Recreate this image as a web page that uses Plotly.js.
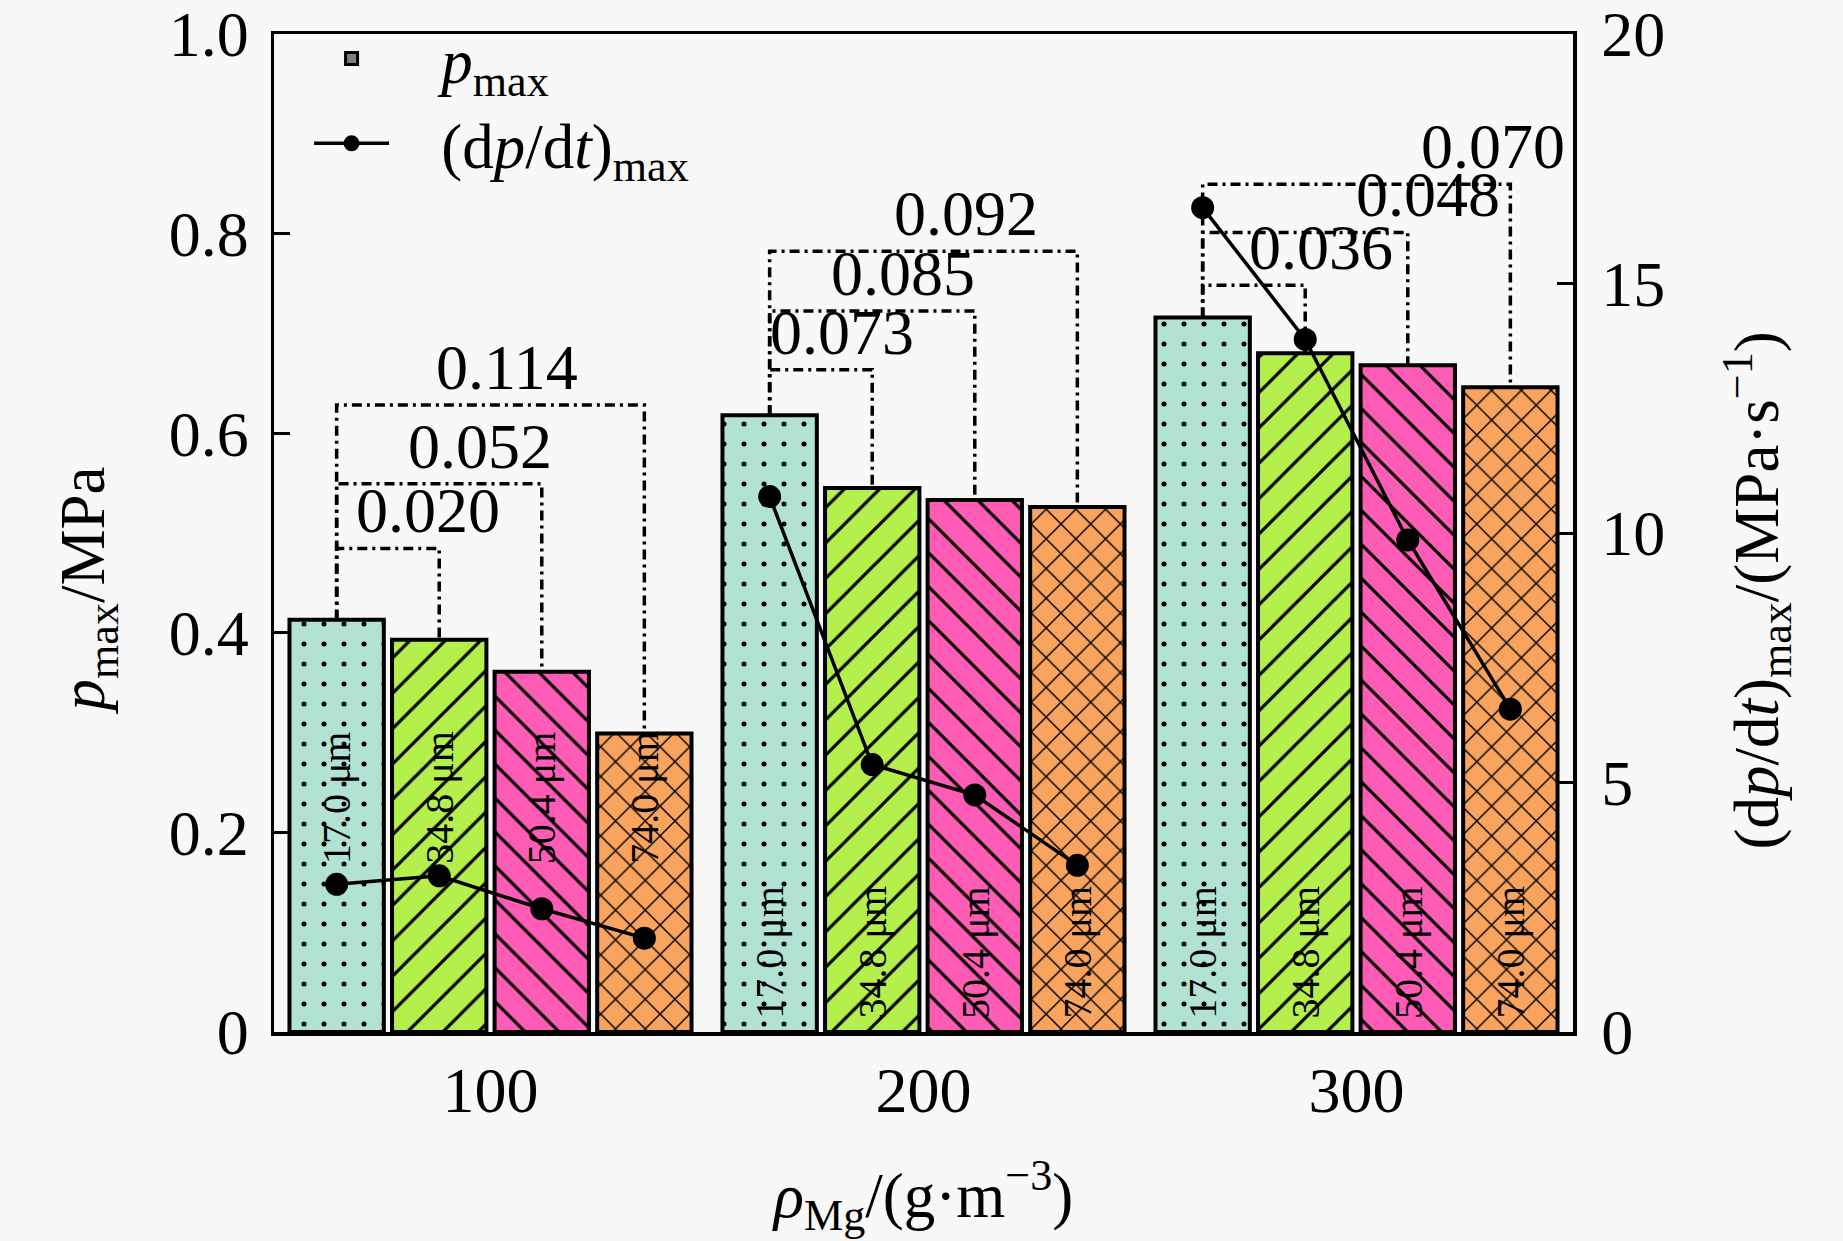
<!DOCTYPE html>
<html>
<head>
<meta charset="utf-8">
<script src="https://cdn.plot.ly/plotly-3.0.1.min.js"></script>
<style>
  html, body { margin: 0; padding: 0; background: #f8f8f8; }
  #graph { width: 1843px; height: 1241px; }
</style>
</head>
<body>
<div id="graph"></div>
<script>
// Mg dust concentration (g/m3) and particle sizes
let concentrations = ["100", "200", "300"];
let sizes = ["17.0 μm", "34.8 μm", "50.4 μm", "74.0 μm"];

// p_max (MPa), one array per particle size, over the three concentrations
let pmax_170 = [0.413, 0.618, 0.716];
let pmax_348 = [0.393, 0.545, 0.680];
let pmax_504 = [0.361, 0.533, 0.668];
let pmax_740 = [0.299, 0.526, 0.646];

// (dp/dt)_max (MPa/s)
let rate_170 = [2.96, 10.73, 16.52];
let rate_348 = [3.13, 5.36, 13.88];
let rate_504 = [2.47, 4.75, 9.86];
let rate_740 = [1.88, 3.34, 6.47];

let pmax = [pmax_170, pmax_348, pmax_504, pmax_740];
let rate = [rate_170, rate_348, rate_504, rate_740];

// styling
let font = "Liberation Serif, Times New Roman, serif";
let colors = ["#b2e2d4", "#b4ef4c", "#ff5cb6", "#f8a45e"];
let shapes_p = [".", "/", "\\", "x"];
let pat_size = [20, 25, 24, 21];
let pat_solid = [0.05, 0.13, 0.13, 0.13];
let bargap = 0.0525;
let slot = (1 - bargap) / sizes.length;
let sp = "\u00a0\u00a0\u00a0";

// bracket heights (left axis units) and label x shifts from the group centre
let bracket_levels = [
  [0.4845, 0.5494, 0.6282],
  [0.6635, 0.7224, 0.7824],
  [0.7482, 0.8012, 0.8494],
];
let label_shift = [
  [-0.144, -0.025, 0.038],
  [-0.189, -0.048, 0.099],
  [-0.081, 0.166, 0.315],
];
let size_label_y = [0.235, 0.08, 0.08];

function barX(group, j) {
  return group + (j - (sizes.length - 1) / 2) * slot;
}

let traces = [];

// legend swatch for p_max (shares the first offset group, no data)
traces.push({
  type: "bar",
  x: [0],
  y: [null],
  name: sp + "<i>p</i><sub>max</sub>",
  offsetgroup: "g0",
  marker: { color: "#7f7f7f", line: { color: "#000", width: 3 } },
  showlegend: true,
  hoverinfo: "skip",
});

for (let j = 0; j < sizes.length; j++) {
  traces.push({
    type: "bar",
    x: concentrations.map((c, i) => i),
    y: pmax[j],
    name: sizes[j],
    offsetgroup: "g" + j,
    showlegend: false,
    marker: {
      color: colors[j],
      line: { color: "#000", width: 4 },
      pattern: {
        shape: shapes_p[j],
        fgcolor: "#000",
        bgcolor: colors[j],
        size: pat_size[j],
        solidity: pat_solid[j],
        fillmode: "replace",
      },
    },
    hoverinfo: "skip",
  });
}

// (dp/dt)_max line, broken between concentrations
let line_x = [];
let line_y = [];
for (let i = 0; i < concentrations.length; i++) {
  for (let j = 0; j < sizes.length; j++) {
    line_x.push(barX(i, j));
    line_y.push(rate[j][i]);
  }
  line_x.push(null);
  line_y.push(null);
}
traces.push({
  type: "scatter",
  mode: "lines+markers",
  x: line_x,
  y: line_y,
  yaxis: "y2",
  name: sp + "(d<i>p</i>/d<i>t</i>)<sub>max</sub>",
  connectgaps: false,
  line: { color: "#000", width: 3.5 },
  marker: { color: "#000", size: 23 },
  hoverinfo: "skip",
});

// brackets with differences
let shapes = [];
let annotations = [];
for (let i = 0; i < concentrations.length; i++) {
  let x0 = barX(i, 0);
  for (let k = 1; k < sizes.length; k++) {
    let x1 = barX(i, k);
    let level = bracket_levels[i][k - 1];
    shapes.push({
      type: "path",
      xref: "x",
      yref: "y",
      path: "M" + x0 + "," + pmax[0][i] + " L" + x0 + "," + level +
        " L" + x1 + "," + level + " L" + x1 + "," + pmax[k][i],
      line: { color: "#000", width: 3.5, dash: "10px,5px,3px,5px" },
      layer: "above",
    });
    let diff = (pmax[0][i] - pmax[k][i]).toFixed(3);
    annotations.push({
      x: i + label_shift[i][k - 1],
      y: level,
      xref: "x",
      yref: "y",
      text: diff,
      showarrow: false,
      xanchor: "center",
      yanchor: "bottom",
      font: { family: font, size: 64, color: "#000" },
    });
  }
  for (let j = 0; j < sizes.length; j++) {
    annotations.push({
      x: barX(i, j),
      y: size_label_y[i],
      xref: "x",
      yref: "y",
      text: sizes[j],
      textangle: -90,
      showarrow: false,
      font: { family: font, size: 40, color: "#000" },
    });
  }
}

// axis titles (set a little below the axis middle, as in the figure)
annotations.push({
  x: -0.1432, y: 0.4424, xref: "paper", yref: "paper",
  text: "<i>p</i><sub>max</sub>/MPa",
  textangle: -90, showarrow: false,
  xanchor: "center", yanchor: "middle",
  font: { family: font, size: 63, color: "#000" },
});
annotations.push({
  x: 1.1417, y: 0.4424, xref: "paper", yref: "paper",
  text: "(d<i>p</i>/d<i>t</i>)<sub>max</sub>/(MPa·s<sup>−1</sup>)",
  textangle: -90, showarrow: false,
  xanchor: "center", yanchor: "middle",
  font: { family: font, size: 63, color: "#000" },
});

let axis_common = {
  showline: true,
  linecolor: "#000",
  linewidth: 3.5,
  showgrid: false,
  zeroline: false,
  fixedrange: true,
  ticklabeloverflow: "allow",
  tickfont: { family: font, size: 64, color: "#000" },
};

let layout = {
  width: 1843,
  height: 1241,
  paper_bgcolor: "#f8f8f8",
  plot_bgcolor: "#f8f8f8",
  margin: { l: 274, r: 270, t: 33, b: 209 },
  barmode: "group",
  bargap: bargap,
  bargroupgap: 0.08,
  showlegend: true,
  legend: {
    x: 0.027,
    y: 1.022,
    xanchor: "left",
    yanchor: "top",
    bgcolor: "rgba(0,0,0,0)",
    font: { family: font, size: 63, color: "#000" },
    itemwidth: 75,
    traceorder: "normal",
  },
  xaxis: Object.assign({}, axis_common, {
    range: [-0.5, 2.5],
    tickvals: [0, 1, 2],
    ticktext: concentrations,
    ticks: "",
    mirror: true,
    ticklabelstandoff: 0,
    title: {
      text: "<i>ρ</i><sub>Mg</sub>/(g·m<sup>−3</sup>)",
      font: { family: font, size: 63, color: "#000" },
      standoff: 48,
    },
  }),
  yaxis: Object.assign({}, axis_common, {
    range: [0, 1],
    tickvals: [0, 0.2, 0.4, 0.6, 0.8, 1.0],
    ticktext: ["0", "0.2", "0.4", "0.6", "0.8", "1.0"],
    ticks: "inside",
    ticklen: 16,
    tickwidth: 3,
    tickcolor: "#000",
    ticklabelstandoff: 9,
  }),
  yaxis2: Object.assign({}, axis_common, {
    overlaying: "y",
    side: "right",
    range: [0, 20],
    tickvals: [0, 5, 10, 15, 20],
    ticks: "inside",
    ticklen: 16,
    tickwidth: 3,
    tickcolor: "#000",
    ticklabelstandoff: 12,
  }),
  shapes: shapes,
  annotations: annotations,
};

Plotly.newPlot("graph", traces, layout, { displayModeBar: false, staticPlot: true });
</script>
</body>
</html>
